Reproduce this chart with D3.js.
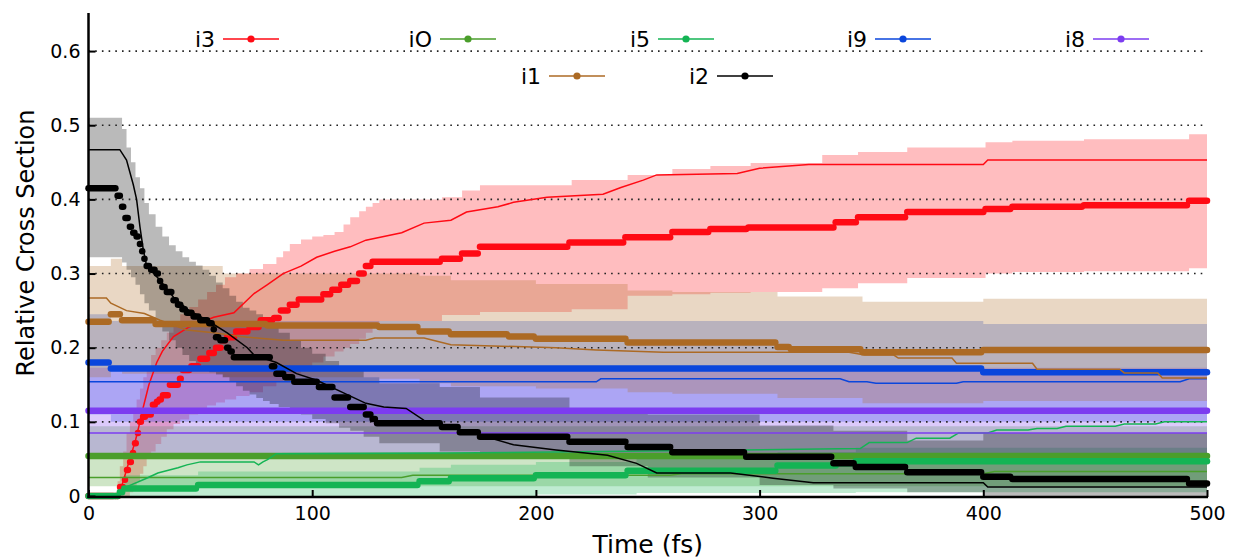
<!DOCTYPE html>
<html>
<head>
<meta charset="utf-8">
<script src="https://cdnjs.cloudflare.com/ajax/libs/d3/7.8.5/d3.min.js"></script>
<style>
  body { margin: 0; background: #fff; }
  text { font-family: "DejaVu Sans", sans-serif; fill: #000; }
</style>
</head>
<body>
<div id="chart"></div>
<script>
const W = 1233, H = 560;

// ---- data: [time fs, value] steps for the marker line, [t, v] for the thin line, [t, lo, hi] for the band
const i3Mean = [[0,0],[12,0],[14.1,0.012],[16.3,0.022],[17.2,0.035],[18.6,0.046],[19.9,0.058],[20.8,0.071],[22.1,0.085],[23,0.1],[24.4,0.107],[26.2,0.11],[28.8,0.123],[30.6,0.127],[31.8,0.13],[33.3,0.136],[36.4,0.15],[40.9,0.158],[42.2,0.17],[46,0.175],[50,0.185],[54,0.193],[57,0.2],[60,0.21],[62,0.214],[66,0.222],[72,0.228],[77,0.237],[83,0.24],[86,0.25],[90,0.258],[94,0.265],[105,0.272],[109,0.278],[113,0.285],[117,0.29],[121,0.3],[124,0.31],[127,0.316],[158,0.32],[167,0.327],[175,0.336],[215,0.342],[240,0.349],[261,0.356],[278,0.36],[295,0.362],[334,0.369],[344,0.376],[366,0.383],[401,0.387],[413,0.39],[445,0.392],[492,0.398],[500,0.398]];
const i3Alt = [[0,0],[13,0],[15,0.015],[17.5,0.04],[21,0.075],[23,0.1],[24.5,0.12],[27,0.15],[30.5,0.18],[33,0.195],[38,0.215],[45,0.228],[56,0.241],[65,0.247],[74,0.273],[80,0.285],[87,0.3],[95,0.31],[102,0.322],[110,0.33],[117,0.336],[124,0.345],[140,0.355],[150,0.368],[162,0.372],[169,0.383],[183,0.39],[190,0.396],[205,0.403],[230,0.407],[238,0.416],[248,0.426],[254,0.433],[290,0.435],[300,0.442],[322,0.447],[400,0.447],[402,0.453],[500,0.453]];
const i3Band = [[12,0,0],[13,0,0.02],[14,0,0.04],[15.5,0,0.06],[17,0,0.085],[18.5,0.005,0.1],[20,0.012,0.115],[21.5,0.02,0.13],[23,0.03,0.145],[24.5,0.04,0.16],[26,0.05,0.175],[28,0.06,0.19],[30,0.07,0.2],[32.5,0.08,0.21],[35,0.09,0.22],[38,0.097,0.232],[41,0.103,0.245],[45,0.11,0.255],[49,0.117,0.265],[53,0.122,0.275],[57,0.126,0.285],[61,0.13,0.295],[66,0.135,0.3],[72,0.14,0.306],[78,0.148,0.313],[84,0.155,0.322],[87,0.16,0.33],[90,0.165,0.34],[95,0.172,0.346],[100,0.18,0.35],[105,0.188,0.352],[110,0.195,0.356],[114,0.2,0.366],[117,0.205,0.376],[121,0.212,0.384],[124,0.22,0.39],[127,0.228,0.395],[130,0.236,0.4],[158,0.244,0.403],[167,0.244,0.412],[175,0.248,0.419],[216,0.252,0.426],[241,0.27,0.433],[261,0.272,0.441],[278,0.274,0.445],[296,0.275,0.449],[328,0.28,0.46],[344,0.287,0.464],[366,0.294,0.47],[401,0.3,0.477],[413,0.302,0.479],[445,0.303,0.481],[492,0.307,0.488],[500,0.307,0.488]];

const iOMean = [[0,0.054],[500,0.054]];
const iOAlt = [[0,0.025],[140,0.025],[145,0.028],[260,0.028],[265,0.03],[400,0.03],[405,0.033],[500,0.033]];
const iOBand = [[0,0.013,0.094],[500,0.013,0.094]];

const i5Mean = [[0,0],[13,0],[14,0.005],[16,0.01],[49,0.015],[148,0.02],[162,0.024],[200,0.028],[241,0.034],[308,0.041],[335,0.044],[343,0.047],[500,0.047]];
const i5Alt = [[0,0],[13,0],[17.5,0.013],[26,0.024],[31,0.031],[40,0.038],[44,0.042],[50,0.046],[74,0.046],[76,0.042],[78,0.046],[80,0.049],[84,0.057],[160,0.058],[230,0.06],[318,0.063],[345,0.064],[349,0.072],[366,0.072],[370,0.078],[385,0.078],[389,0.085],[402,0.085],[406,0.089],[420,0.089],[424,0.091],[433,0.091],[437,0.094],[459,0.094],[463,0.097],[477,0.097],[481,0.1],[500,0.1]];
const i5Band = [[0,0,0],[13,0,0],[14.5,0,0.015],[16,0,0.028],[49,0,0.033],[148,0,0.038],[162,0,0.042],[200,0.002,0.046],[245,0.004,0.052],[308,0.004,0.059],[343,0.005,0.065],[500,0.005,0.065]];

const i9Mean = [[0,0.18],[10,0.172],[400,0.167],[500,0.167]];
const i9Alt = [[0,0.154],[227,0.154],[229,0.158],[336,0.158],[340,0.154],[348,0.154],[352,0.152],[388,0.152],[391,0.154],[488,0.154],[492,0.158],[500,0.158]];
const i9Band = [[0,0.11,0.245],[10,0.1,0.236],[400,0.1,0.232],[500,0.1,0.232]];

const i8Mean = [[0,0.115],[500,0.115]];
const i8Alt = [[0,0.085],[500,0.085]];
const i8Band = [[0,0.057,0.173],[500,0.057,0.173]];

const i1Mean = [[0,0.235],[10,0.245],[15,0.237],[30,0.232],[80,0.23],[130,0.228],[148,0.222],[162,0.218],[188,0.215],[200,0.212],[241,0.207],[308,0.201],[314,0.198],[346,0.194],[400,0.197],[500,0.197]];
const i1Alt = [[0,0.267],[8,0.267],[10,0.26],[17,0.25],[25,0.246],[32,0.237],[44,0.224],[56,0.22],[68,0.215],[87,0.21],[124,0.21],[128,0.213],[150,0.213],[162,0.204],[209,0.2],[227,0.197],[257,0.194],[340,0.194],[347,0.19],[360,0.19],[362,0.186],[386,0.186],[388,0.179],[422,0.179],[424,0.171],[461,0.171],[463,0.166],[478,0.166],[480,0.159],[500,0.159]];
const i1Band = [[0,0.16,0.31],[10,0.17,0.32],[15,0.165,0.31],[60,0.16,0.3],[130,0.158,0.3],[148,0.152,0.297],[162,0.148,0.291],[200,0.145,0.286],[241,0.14,0.277],[261,0.138,0.275],[308,0.132,0.269],[346,0.125,0.262],[400,0.128,0.266],[500,0.128,0.266]];

const i2Mean = [[0,0.415],[13,0.405],[15,0.39],[16.5,0.375],[18.5,0.363],[20,0.355],[21.5,0.35],[23,0.34],[24,0.33],[25,0.32],[26,0.31],[28,0.305],[30.5,0.3],[32,0.29],[33,0.282],[35,0.275],[38,0.264],[40,0.258],[42,0.252],[44,0.247],[47,0.242],[50,0.237],[54,0.233],[56,0.225],[57,0.214],[59,0.21],[62,0.2],[63.5,0.195],[65,0.187],[82,0.175],[84,0.165],[88,0.16],[92,0.154],[103,0.147],[110,0.133],[117,0.12],[124,0.11],[127,0.104],[129,0.098],[158,0.093],[166,0.086],[175,0.08],[215,0.073],[241,0.066],[261,0.059],[294,0.053],[333,0.044],[343,0.039],[366,0.032],[400,0.026],[413,0.023],[492,0.017],[500,0.017]];
const i2Alt = [[0,0.467],[14,0.467],[17,0.453],[20,0.42],[21.5,0.4],[23,0.363],[24.5,0.332],[26,0.31],[32,0.291],[38,0.268],[45,0.25],[53,0.237],[62,0.22],[71,0.2],[74,0.19],[84,0.18],[93,0.165],[102,0.156],[114,0.139],[124,0.125],[132,0.12],[142,0.118],[150,0.102],[160,0.093],[172,0.085],[190,0.069],[209,0.062],[232,0.055],[245,0.044],[254,0.031],[287,0.031],[306,0.024],[324,0.018],[400,0.018],[402,0.012],[500,0.012]];
const i2Band = [[0,0.322,0.51],[13,0.322,0.51],[15,0.315,0.495],[17,0.305,0.47],[19,0.295,0.45],[21,0.285,0.43],[23,0.272,0.415],[25,0.26,0.395],[27,0.25,0.38],[30,0.235,0.363],[33,0.222,0.35],[36,0.21,0.338],[39,0.2,0.33],[42,0.19,0.322],[45,0.182,0.316],[48,0.176,0.311],[51,0.17,0.305],[54,0.167,0.297],[57,0.164,0.288],[60,0.16,0.28],[63,0.155,0.27],[66,0.148,0.262],[69,0.142,0.254],[72,0.137,0.25],[75,0.132,0.245],[78,0.128,0.235],[81,0.124,0.227],[85,0.12,0.22],[90,0.115,0.21],[95,0.11,0.2],[100,0.104,0.192],[106,0.098,0.182],[112,0.092,0.175],[117,0.088,0.17],[123,0.08,0.16],[130,0.071,0.152],[157,0.06,0.147],[175,0.05,0.133],[215,0.04,0.116],[250,0.025,0.11],[300,0.015,0.095],[333,0.01,0.088],[366,0.005,0.075],[400,0,0.085],[500,0,0.085]];

const xTicks = [0, 100, 200, 300, 400, 500];
const yTicks = [0, 0.1, 0.2, 0.3, 0.4, 0.5, 0.6];

// drawing order = legend order
const series = [
  { name: "i3", color: "#ff0a14", mean: i3Mean, alt: i3Alt, band: i3Band },
  { name: "iO", color: "#4a9e2b", mean: iOMean, alt: iOAlt, band: iOBand },
  { name: "i5", color: "#14b454", mean: i5Mean, alt: i5Alt, band: i5Band },
  { name: "i9", color: "#0a46dc", mean: i9Mean, alt: i9Alt, band: i9Band },
  { name: "i8", color: "#7c3cf0", mean: i8Mean, alt: i8Alt, band: i8Band },
  { name: "i1", color: "#ac6a24", mean: i1Mean, alt: i1Alt, band: i1Band },
  { name: "i2", color: "#000000", mean: i2Mean, alt: i2Alt, band: i2Band }
];

const svg = d3.select('#chart').append('svg')
  .attr('width', W)
  .attr('height', H);

const x = d3.scaleLinear().domain([0, 500]).range([88.5, 1207]);
const y = d3.scaleLinear().domain([0, 0.65]).range([496, 14]);

// bands
const area = d3.area()
  .x(d => x(d[0]))
  .y0(d => y(d[1]))
  .y1(d => y(d[2]))
  .curve(d3.curveStepAfter);

svg.append('g').selectAll('path')
  .data(series)
  .join('path')
  .attr('d', d => area(d.band))
  .attr('fill', d => d.color)
  .attr('fill-opacity', 0.27);

// dotted grid
svg.append('g').selectAll('line')
  .data(yTicks.filter(v => v > 0))
  .join('line')
  .attr('x1', x(0)).attr('x2', x(500))
  .attr('y1', d => y(d)).attr('y2', d => y(d))
  .attr('stroke', '#222')
  .attr('stroke-width', 1.6)
  .attr('stroke-dasharray', '1.6,5.1');

// marker lines: one short run per step, so fast changes read as separate dots
function runs(data) {
  return d3.range(data.length - 1).map(i => {
    const last = i === data.length - 2;
    const x1 = x(data[i][0]);
    const x2 = last ? x(data[i + 1][0]) : Math.max(x1, x(data[i + 1][0]) - 2.2);
    return { x1, x2, y: y(data[i][1]) };
  });
}

const line = d3.line().x(d => x(d[0])).y(d => y(d[1]));

series.forEach(s => {
  const g = svg.append('g');
  g.selectAll('line')
    .data(runs(s.mean))
    .join('line')
    .attr('x1', d => d.x1).attr('x2', d => d.x2)
    .attr('y1', d => d.y).attr('y2', d => d.y)
    .attr('stroke', s.color)
    .attr('stroke-width', 6.5)
    .attr('stroke-linecap', 'round');
  g.append('path')
    .attr('d', line(s.alt))
    .attr('fill', 'none')
    .attr('stroke', s.color)
    .attr('stroke-width', 1.5);
});

// axes
const yAxis = d3.axisLeft(y)
  .tickValues(yTicks)
  .tickSize(-7)
  .tickPadding(8)
  .tickFormat(d => d === 0 ? '0' : d3.format('.1f')(d));

const xAxis = d3.axisBottom(x)
  .tickValues(xTicks)
  .tickSize(-7)
  .tickPadding(10)
  .tickFormat(d3.format('d'));

const gy = svg.append('g').attr('transform', `translate(${x(0)},0)`).call(yAxis);
const gx = svg.append('g').attr('transform', `translate(0,${y(0) + 1})`).call(xAxis);

[gx, gy].forEach(g => {
  g.select('.domain').remove();
  g.selectAll('.tick line').attr('stroke', '#000').attr('stroke-width', 2);
  g.selectAll('.tick text').attr('font-size', 19).attr('fill', '#000')
    .style('font-family', '"DejaVu Sans", sans-serif');
});

svg.append('line')
  .attr('x1', x(0)).attr('x2', x(0))
  .attr('y1', 13).attr('y2', y(0) + 2)
  .attr('stroke', '#000').attr('stroke-width', 2.5);
svg.append('line')
  .attr('x1', x(0) - 1).attr('x2', x(500) + 1)
  .attr('y1', y(0) + 1).attr('y2', y(0) + 1)
  .attr('stroke', '#000').attr('stroke-width', 2.5);

svg.append('text')
  .attr('x', (x(0) + x(500)) / 2)
  .attr('y', 553)
  .attr('text-anchor', 'middle')
  .attr('font-size', 25)
  .text('Time (fs)');

svg.append('text')
  .attr('transform', 'translate(34,243) rotate(-90)')
  .attr('text-anchor', 'middle')
  .attr('font-size', 24)
  .text('Relative Cross Section');

// legend
const legendPos = {
  i3: [223, 39], iO: [440, 39], i5: [658, 39], i9: [875, 39], i8: [1093, 39],
  i1: [549, 76], i2: [717, 76]
};

const lg = svg.append('g').selectAll('g')
  .data(series)
  .join('g')
  .attr('transform', d => `translate(${legendPos[d.name][0]},${legendPos[d.name][1]})`);

lg.append('line')
  .attr('x1', 0).attr('x2', 56)
  .attr('stroke', d => d.color)
  .attr('stroke-width', 1.5);
lg.append('circle')
  .attr('cx', 28).attr('r', 3.6)
  .attr('fill', d => d.color);
lg.append('text')
  .attr('x', -8)
  .attr('dy', '0.36em')
  .attr('text-anchor', 'end')
  .attr('font-size', 22)
  .text(d => d.name);
</script>
</body>
</html>
